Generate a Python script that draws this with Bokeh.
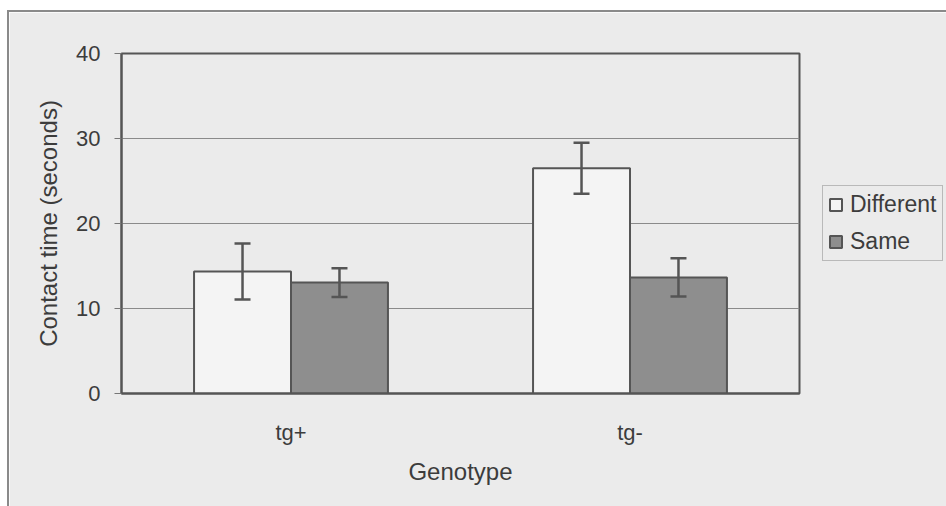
from bokeh.plotting import figure
from bokeh.models import ColumnDataSource, FactorRange, Whisker, Legend, LegendItem
from bokeh.transform import dodge
from bokeh.embed import file_html
from bokeh.resources import INLINE

# ---- data ----
genotypes = ["tg+", "tg-"]
different_mean = [14.35, 26.5]
different_err = [3.3, 3.0]
same_mean = [13.05, 13.65]
same_err = [1.7, 2.25]
y_ticks = [0, 10, 20, 30, 40]

FONT = "Liberation Sans"
DARK = "#555555"
BG = "#ebebeb"

src_d = ColumnDataSource(dict(
    g=genotypes, v=different_mean,
    lo=[m - e for m, e in zip(different_mean, different_err)],
    hi=[m + e for m, e in zip(different_mean, different_err)],
))
src_s = ColumnDataSource(dict(
    g=genotypes, v=same_mean,
    lo=[m - e for m, e in zip(same_mean, same_err)],
    hi=[m + e for m, e in zip(same_mean, same_err)],
))

p = figure(
    x_range=FactorRange(*genotypes, range_padding=0),
    y_range=(0, 40),
    frame_width=678, frame_height=340,
    output_backend="svg", toolbar_location=None,
    min_border_left=112, min_border_right=10,
    min_border_top=41, min_border_bottom=114,
    background_fill_color=BG, border_fill_color=BG,
)
p.styles = {"margin-left": "7px", "margin-top": "10px",
            "border-top": "2px solid #8a8a8a", "border-left": "2px solid #8a8a8a"}

bw = 0.286
r_d = p.vbar(x=dodge("g", -bw / 2, range=p.x_range), top="v", width=bw, source=src_d,
             fill_color="#f4f4f4", line_color=DARK, line_width=2)
r_s = p.vbar(x=dodge("g", bw / 2, range=p.x_range), top="v", width=bw, source=src_s,
             fill_color="#8e8e8e", line_color=DARK, line_width=2)

for src, off in ((src_d, -bw / 2), (src_s, bw / 2)):
    w = Whisker(base=dodge("g", off, range=p.x_range), lower="lo", upper="hi", source=src,
                line_color=DARK, line_width=2.5, level="overlay")
    w.upper_head.size = 16
    w.lower_head.size = 16
    w.upper_head.line_color = DARK
    w.lower_head.line_color = DARK
    w.upper_head.line_width = 2.5
    w.lower_head.line_width = 2.5
    p.add_layout(w)

# axes
p.yaxis.ticker = y_ticks
p.yaxis.axis_label = "Contact time (seconds)"
p.xaxis.axis_label = "Genotype"
for ax in (p.xaxis[0], p.yaxis[0]):
    ax.axis_label_text_font = FONT
    ax.axis_label_text_font_size = "24px"
    ax.axis_label_text_font_style = "normal"
    ax.axis_label_text_color = "#3c3c3c"
    ax.major_label_text_font = FONT
    ax.major_label_text_font_size = "22px"
    ax.major_label_text_color = "#3c3c3c"
    ax.axis_line_color = DARK
    ax.axis_line_width = 2
    ax.minor_tick_line_color = None

p.yaxis.major_tick_out = 7
p.yaxis.major_tick_in = 0
p.yaxis.major_tick_line_color = "#777777"
p.yaxis.major_label_standoff = 14
p.yaxis.axis_label_standoff = 11

p.xaxis.major_tick_line_color = None
p.xaxis.major_label_standoff = 20
p.xaxis.axis_label_standoff = 10

p.xgrid.grid_line_color = None
p.ygrid.grid_line_color = "#8a8a8a"
p.ygrid.grid_line_width = 1

p.outline_line_color = DARK
p.outline_line_width = 2

legend = Legend(
    items=[LegendItem(label="Different", renderers=[r_d]),
           LegendItem(label="Same", renderers=[r_s])],
    location="center_left",
    label_text_font=FONT, label_text_font_size="23px", label_text_color="#3c3c3c",
    glyph_width=15, glyph_height=15, spacing=10, padding=5, margin=23,
    label_standoff=7,
    background_fill_color=BG, background_fill_alpha=1,
    border_line_color="#888888", border_line_width=1,
)
p.add_layout(legend, "right")

open("out.html", "w").write(file_html(p, INLINE))
